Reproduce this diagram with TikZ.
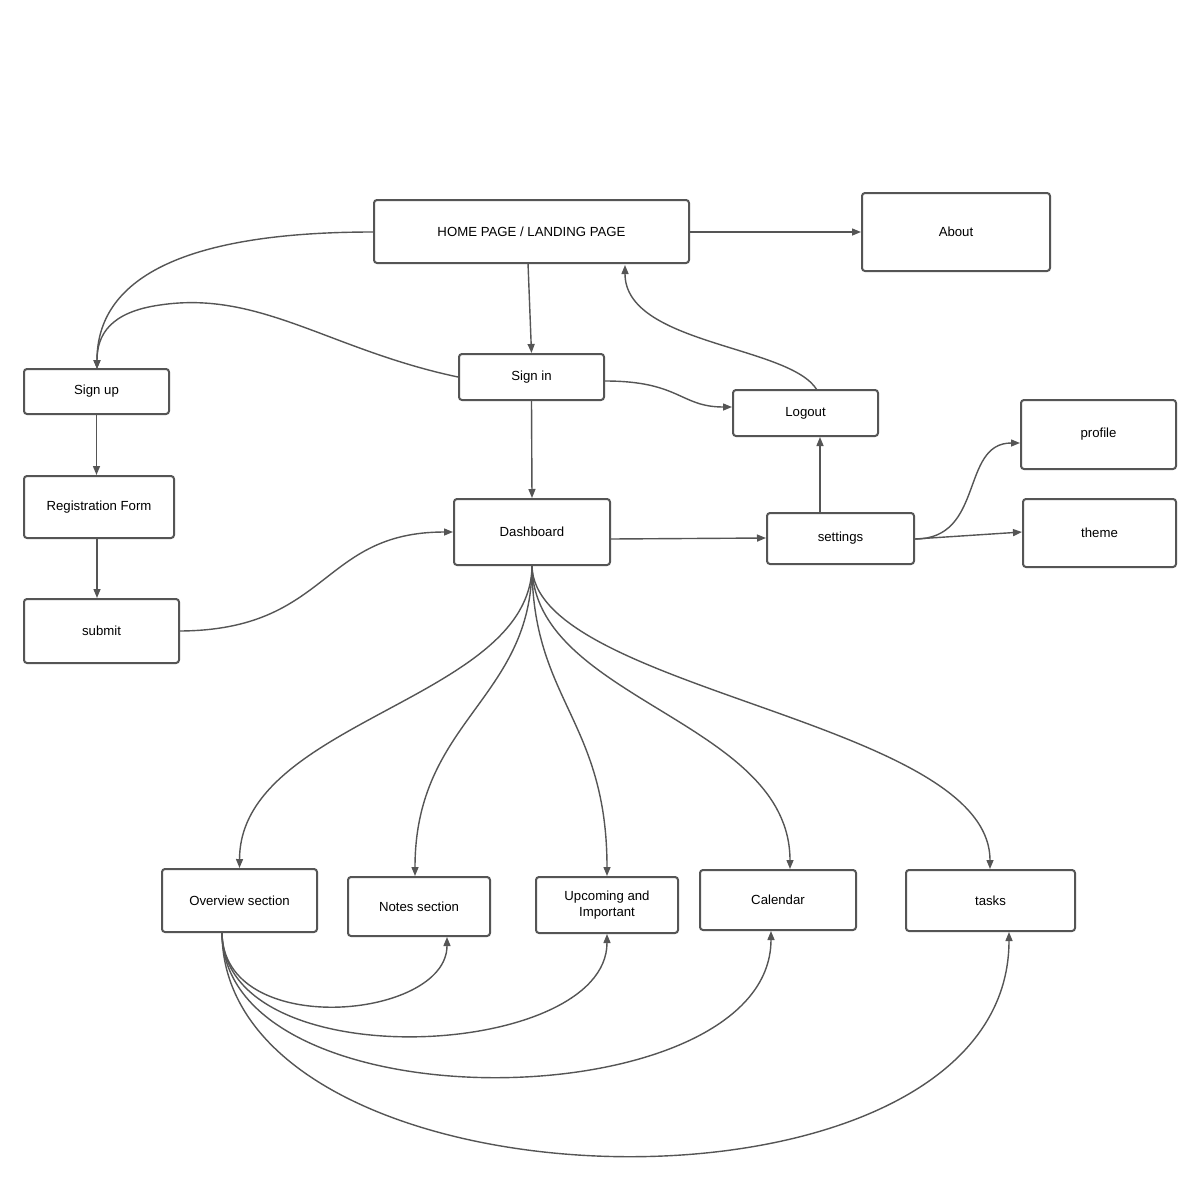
\documentclass[tikz,border=0pt]{standalone}
\usepackage{fontspec}
\setmainfont{Liberation Sans}
\usetikzlibrary{arrows.meta}
\definecolor{ln}{HTML}{555555}
\begin{document}
\begin{tikzpicture}[x=0.5pt,y=-0.5pt,
 box/.style={draw=ln,line width=1pt,rounded corners=1.5pt,fill=white,font=\fontsize{6.6}{8}\selectfont,align=center,inner sep=0pt},
 ar/.style={draw=ln,line width=0.7pt,-{Triangle[length=4.5pt,width=3.5pt]}}]
\useasboundingbox (0,0) rectangle (1200,1194);
\fill[white] (0,0) rectangle (1200,1194);
\newcommand{\bx}[6]{\node[box,minimum width=#4*0.5pt-#2*0.5pt,minimum height=#5*0.5pt-#3*0.5pt] (#1) at ({(#2+#4)/2},{(#3+#5)/2}) {#6};}
\bx{home}{374}{200}{689}{263}{HOME PAGE / LANDING PAGE}
\bx{about}{862}{193}{1050}{271}{About}
\bx{signup}{24}{369}{169}{414}{Sign up}
\bx{signin}{459}{354}{604}{400}{Sign in}
\bx{logout}{733}{390}{878}{436}{Logout}
\bx{profile}{1021}{400}{1176}{469}{profile}
\bx{reg}{24}{476}{174}{538}{Registration Form}
\bx{dash}{454}{499}{610}{565}{Dashboard}
\bx{settings}{767}{513}{914}{564}{settings}
\bx{theme}{1023}{499}{1176}{567}{theme}
\bx{submit}{24}{599}{179}{663}{submit}
\bx{over}{162}{869}{317}{932}{Overview section}
\bx{notes}{348}{877}{490}{936}{Notes section}
\bx{up}{536}{877}{678}{933}{Upcoming and\\Important}
\bx{cal}{700}{870}{856}{930}{Calendar}
\bx{tasks}{906}{870}{1075}{931}{tasks}
\coordinate (sut) at (97,369);
\draw[ar] (home.east |- 0,232) -- (about.west |- 0,232);
\draw[ar] (home.west |- 0,232) .. controls (180,232) and (97,280) .. (sut);
\draw[ar] (528,263) -- (signin.north);
\draw[ar] (signin.west) .. controls (330,350) and (260,290) .. (160,305) .. controls (110,312) and (97,335) .. (sut);
\draw[ar] (signin.east |- 0,381) .. controls (680,381) and (680,407) .. (logout.west |- 0,407);
\draw[ar] (817,390) .. controls (790,345) and (625,345) .. (625,265);
\draw[ar] (signin.south) -- (dash.north);
\draw[ar] (signup.south) -- (signup.south |- reg.north);
\draw[ar] (reg.south -| 97,0) -- (submit.north -| 97,0);
\draw[ar] (submit.east |- 0,631) .. controls (330,630) and (320,532) .. (dash.west |- 0,532);
\draw[ar] (dash.east |- 0,539) -- (settings.west |- 0,538);
\draw[ar] (settings.north -| 820,0) -- (logout.south -| 820,0);
\draw[ar] (settings.east |- 0,539) .. controls (985,539) and (960,443) .. (profile.west |- 0,443);
\draw[ar] (settings.east |- 0,539) -- (theme.west |- 0,532);
\coordinate (db) at (532,565);
\draw[ar] (db) .. controls (532,700) and (240,720) .. (over.north);
\draw[ar] (db) .. controls (532,700) and (415,720) .. (notes.north -| 415,0);
\draw[ar] (db) .. controls (532,700) and (607,720) .. (up.north -| 607,0);
\draw[ar] (db) .. controls (532,700) and (790,720) .. (cal.north -| 790,0);
\draw[ar] (db) .. controls (532,690) and (990,720) .. (tasks.north -| 990,0);
\coordinate (ob) at (222,932);
\draw[ar] (ob) .. controls (222,1040) and (447,1020) .. (notes.south -| 447,0);
\draw[ar] (ob) .. controls (222,1080) and (607,1060) .. (up.south -| 607,0);
\draw[ar] (ob) .. controls (222,1130) and (771,1120) .. (cal.south -| 771,0);
\draw[ar] (ob) .. controls (222,1220) and (1009,1240) .. (tasks.south -| 1009,0);
\end{tikzpicture}
\end{document}
